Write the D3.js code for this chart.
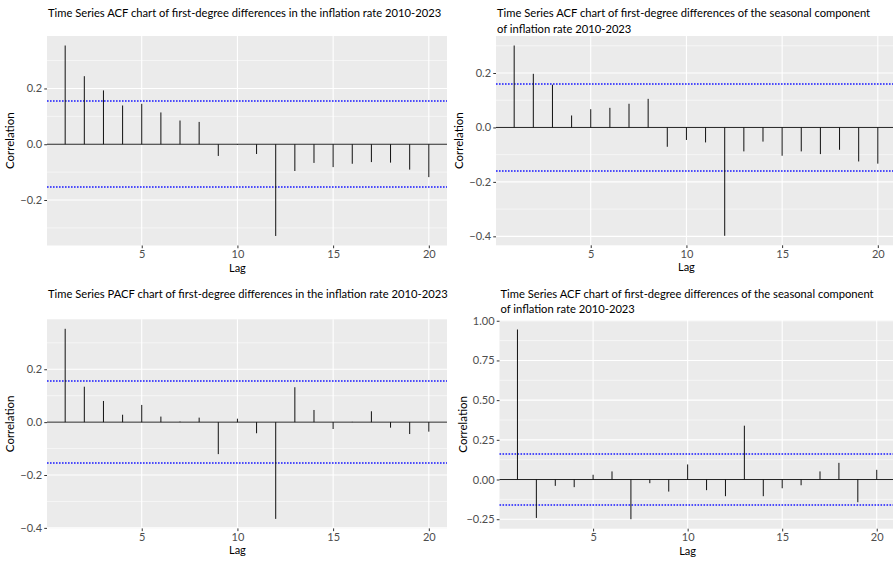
<!DOCTYPE html>
<html><head><meta charset="utf-8">
<script src="https://cdn.jsdelivr.net/npm/d3@7"></script>
<style>
body{margin:0;background:#fff;}
svg{display:block;font-family:Lato,"Open Sans",sans-serif;}
</style></head><body>
<svg id="c" width="893" height="565"></svg>
<script>
const lags = d3.range(1, 21);
const acfDiff = [0.354,0.244,0.193,0.139,0.145,0.114,0.085,0.080,-0.042,-0.002,-0.035,-0.329,-0.096,-0.067,-0.082,-0.070,-0.064,-0.066,-0.091,-0.118];
const acfSeasonal = [0.301,0.197,0.157,0.044,0.067,0.072,0.087,0.105,-0.071,-0.046,-0.055,-0.398,-0.088,-0.052,-0.104,-0.088,-0.098,-0.082,-0.125,-0.133];
const pacfDiff = [0.353,0.134,0.080,0.028,0.065,0.021,0.002,0.017,-0.121,0.013,-0.042,-0.366,0.132,0.046,-0.026,0.001,0.041,-0.021,-0.045,-0.036];
const acfSeasonal2 = [0.945,-0.242,-0.040,-0.048,0.030,0.051,-0.250,-0.023,-0.076,0.095,-0.067,-0.105,0.339,-0.105,-0.055,-0.036,0.051,0.105,-0.143,0.061];
const ciValues = [0.155, 0.159, 0.154, 0.160];
const xTicks = [5, 10, 15, 20];
const yTicks1 = [-0.2, 0, 0.2];
const yTicks2 = [-0.4, -0.2, 0, 0.2];
const yTicks3 = [-0.4, -0.2, 0, 0.2];
const yTicks4 = [-0.25, 0, 0.25, 0.5, 0.75, 1.0];
const titles = [
  ["Time Series ACF chart of first-degree differences in the inflation rate 2010-2023"],
  ["Time Series ACF chart of first-degree differences of the seasonal component","of inflation rate 2010-2023"],
  ["Time Series PACF chart of first-degree differences in the inflation rate 2010-2023"],
  ["Time Series ACF chart of first-degree differences of the seasonal component","of inflation rate 2010-2023"]
];

const svg = d3.select("#c");

function panel(cfg){
  const {left,right,top,bottom,values,ci,yTicks,title,titleY,tickDec} = cfg;
  const g = svg.append("g");
  const lo = Math.min(d3.min(values), -ci), hi = Math.max(d3.max(values), ci);
  const pad = (hi - lo) * 0.05;
  const y = d3.scaleLinear().domain([lo - pad, hi + pad]).range([bottom, top]);
  const x = d3.scaleLinear().domain([1 - 0.95, 20 + 0.95]).range([left, right]);
  g.append("rect").attr("x",left).attr("y",top).attr("width",right-left).attr("height",bottom-top).attr("fill","#EBEBEB");
  const step = yTicks[1]-yTicks[0];
  const minors = [];
  for (let v = yTicks[0]-step/2; v <= hi+pad; v += step){ if (v >= lo-pad) minors.push(v); }
  g.selectAll(".mn").data(minors).join("line")
    .attr("x1",left).attr("x2",right).attr("y1",d=>y(d)).attr("y2",d=>y(d))
    .attr("stroke","#fff").attr("stroke-width",0.55);
  g.selectAll(".mjy").data(yTicks).join("line")
    .attr("x1",left).attr("x2",right).attr("y1",d=>y(d)).attr("y2",d=>y(d))
    .attr("stroke","#fff").attr("stroke-width",1.1);
  g.selectAll(".mjx").data(xTicks).join("line")
    .attr("x1",d=>x(d)).attr("x2",d=>x(d)).attr("y1",top).attr("y2",bottom)
    .attr("stroke","#fff").attr("stroke-width",1.1);
  g.append("line").attr("x1",left).attr("x2",right).attr("y1",y(0)).attr("y2",y(0))
    .attr("stroke","#222").attr("stroke-width",1);
  [ci,-ci].forEach(c=>{
    const yy = Math.round(y(c));
    g.append("line").attr("x1",left).attr("x2",right).attr("y1",yy).attr("y2",yy)
      .attr("stroke","#1a1aff").attr("stroke-width",1.3).attr("stroke-dasharray","1.6,1.4");
  });
  g.selectAll(".seg").data(values).join("line")
    .attr("x1",(d,i)=>x(lags[i])).attr("x2",(d,i)=>x(lags[i]))
    .attr("y1",y(0)).attr("y2",d=>y(d))
    .attr("stroke","#111").attr("stroke-width",1);
  const ya = d3.axisLeft(y).tickValues(yTicks).tickSize(2.75).tickPadding(2.2).tickFormat(d=>d3.format("."+tickDec+"f")(d));
  const ay = g.append("g").attr("transform",`translate(${left},0)`).call(ya);
  const xa = d3.axisBottom(x).tickValues(xTicks).tickSize(2.75).tickPadding(2.2);
  const ax = g.append("g").attr("transform",`translate(0,${bottom})`).call(xa);
  [ay,ax].forEach(a=>{
    a.select(".domain").remove();
    a.selectAll(".tick line").attr("stroke","#333").attr("stroke-width",1);
    a.selectAll(".tick text").attr("fill","#4D4D4D").attr("font-size","11px").attr("font-family","Lato,sans-serif");
  });
  g.append("text").attr("x",x(10)).attr("y",bottom+26).attr("text-anchor","middle")
    .attr("font-size","11px").attr("fill","#000").text("Lag");
  g.append("text").attr("transform",`translate(${left-33},${(top+bottom)/2}) rotate(-90)`)
    .attr("text-anchor","middle").attr("font-size","11.5px").attr("fill","#000").text("Correlation");
  title.forEach((t,i)=>{
    g.append("text").attr("x",left+1).attr("y",titleY+i*15.3).attr("font-size","11.2px").attr("fill","#000").text(t);
  });
}

panel({left:47,right:447,top:36,bottom:245.5,values:acfDiff,ci:ciValues[0],yTicks:yTicks1,tickDec:1,title:titles[0],titleY:17.3});
panel({left:496,right:896,top:36,bottom:245.3,values:acfSeasonal,ci:ciValues[1],yTicks:yTicks2,tickDec:1,title:titles[1],titleY:17.3});
panel({left:47,right:447,top:319.3,bottom:528.4,values:pacfDiff,ci:ciValues[2],yTicks:yTicks3,tickDec:1,title:titles[2],titleY:297.5});
panel({left:499.5,right:894.7,top:320,bottom:528.7,values:acfSeasonal2,ci:ciValues[3],yTicks:yTicks4,tickDec:2,title:titles[3],titleY:297.5});
</script>
</body></html>
